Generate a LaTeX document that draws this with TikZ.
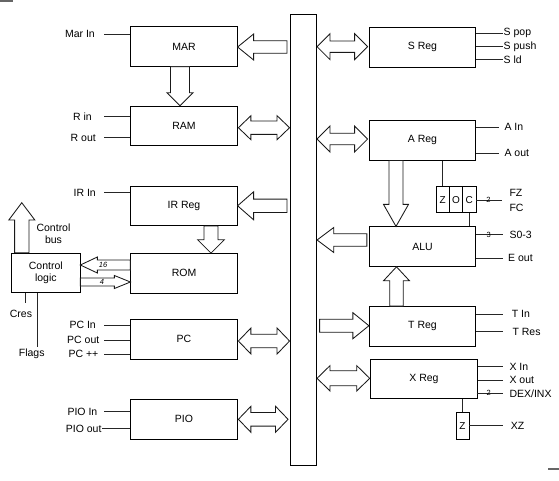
\documentclass[tikz,border=0pt]{standalone}
\usepackage{fontspec}
\setmainfont{Liberation Sans}
\usetikzlibrary{calc}
\tikzset{
  blk/.style={draw=black, line width=0.8pt, minimum width=106.4pt, minimum height=39.6pt, inner sep=0pt, font=\fontsize{10.5}{12}\selectfont},
  flagbox/.style={draw=black, line width=0.8pt, minimum width=13.3pt, minimum height=26pt, inner sep=0pt, font=\fontsize{10}{12}\selectfont},
  wire/.style={draw=black!85, line width=0.8pt},
  lbl/.style={inner sep=0pt, font=\fontsize{10.5}{12}\selectfont},
  tinylbl/.style={inner sep=0pt, font=\fontsize{7.5}{8}\selectfont},
  hollow/.style={draw=black!90, line width=0.85pt, fill=white, line join=miter}
}
% single hollow arrow: tail, tip, shaft half width, head half width, head length
\newcommand{\SArrowDraw}[5]{%
  \path coordinate (sa-t) at (#1) coordinate (sa-h) at (#2);
  \path coordinate (sa-c) at ($(sa-h)!#5!(sa-t)$);
  \draw[hollow] ($(sa-t)!#3!90:(sa-h)$) -- ($(sa-c)!#3!-90:(sa-t)$) -- ($(sa-c)!#4!-90:(sa-t)$) -- (sa-h) -- ($(sa-c)!#4!90:(sa-t)$) -- ($(sa-c)!#3!90:(sa-t)$) -- ($(sa-t)!#3!-90:(sa-h)$) -- cycle;
}
% double hollow arrow
\newcommand{\DArrowDraw}[5]{%
  \path coordinate (da-a) at (#1) coordinate (da-b) at (#2);
  \path coordinate (da-ca) at ($(da-a)!#5!(da-b)$) coordinate (da-cb) at ($(da-b)!#5!(da-a)$);
  \draw[hollow] (da-a) -- ($(da-ca)!#4!90:(da-b)$) -- ($(da-ca)!#3!90:(da-b)$) -- ($(da-cb)!#3!-90:(da-a)$) -- ($(da-cb)!#4!-90:(da-a)$) -- (da-b) -- ($(da-cb)!#4!90:(da-a)$) -- ($(da-cb)!#3!90:(da-a)$) -- ($(da-ca)!#3!-90:(da-b)$) -- ($(da-ca)!#4!-90:(da-b)$) -- cycle;
}
\begin{document}
\begin{tikzpicture}[x=1pt, y=-1pt]
\useasboundingbox (0,0) rectangle (559,480);
% corner marks
\draw[black!60, line width=2pt] (0,1.2) -- (13,1.2);
\draw[black!60, line width=2pt] (548,468.5) -- (559,468.5);

% bus
\node[draw=black, line width=0.8pt, minimum width=26.7pt, minimum height=451pt, inner sep=0pt] (bus) at (303.3,240) {};

% left blocks
\node[blk] (mar) at (184,46.5) {MAR};
\node[blk] (ram) at (184,126) {RAM};
\node[blk] (ir) at (184,205.8) {IR Reg};
\node[blk] (rom) at (184,273.3) {ROM};
\node[blk] (pc) at (184,339.3) {PC};
\node[blk] (pio) at (184,419.3) {PIO};
\node[blk, minimum width=68.3pt, align=center] (ctrl) at (45.8,273) {Control\\logic};

% right blocks
\node[blk] (sreg) at (422.5,47.3) {S Reg};
\node[blk] (areg) at (422.5,140.3) {A Reg};
\node[blk] (alu) at (422.5,246.6) {ALU};
\node[blk] (treg) at (422.5,326.3) {T Reg};
\node[blk] (xreg) at (424,378.8) {X Reg};
\node[flagbox] (fz) at (442.7,199.7) {Z};
\node[flagbox] (fo) at (456,199.7) {O};
\node[flagbox] (fc) at (469.3,199.7) {C};
\node[flagbox, minimum width=13pt, minimum height=26.3pt] (xz) at (462.5,425.8) {Z};

% hollow arrows, left side
\SArrowDraw{$(bus.west|-mar.east)+(-2.5,0.5)$}{$(mar.east)+(0,0.5)$}{6.3pt}{13pt}{16pt}
\DArrowDraw{$(ram.east)+(0.8,1.7)$}{$(bus.west|-ram.east)+(0,1.7)$}{6.7pt}{12pt}{12.5pt}
\SArrowDraw{$(bus.west|-ir.east)+(-2.5,0)$}{ir.east}{6.7pt}{14pt}{16pt}
\DArrowDraw{$(pc.east)+(0.8,1.7)$}{$(bus.west|-pc.east)+(0,1.7)$}{6.8pt}{13pt}{12.5pt}
\DArrowDraw{$(pio.east)+(0.8,0)$}{$(bus.west|-pio.east)+(-1.5,0)$}{6.8pt}{13pt}{12.5pt}
\SArrowDraw{$(mar.south)+(-4,0)$}{$(ram.north)+(-4,0)$}{9.5pt}{13pt}{13pt}
\SArrowDraw{$(ir.south)+(27,0)$}{$(rom.north)+(27,0)$}{7pt}{13.3pt}{13.3pt}
\coordinate (cbtip) at (21.8,202.7);
\SArrowDraw{$(ctrl.north)+(-24,0)$}{cbtip}{7.2pt}{13pt}{17.3pt}
\SArrowDraw{$(rom.west)+(0,-8.3)$}{$(ctrl.east|-rom.west)+(0,-8.3)$}{5pt}{8pt}{17pt}
\SArrowDraw{$(ctrl.east|-rom.west)+(0,8.7)$}{$(rom.west)+(0,8.7)$}{4pt}{6.5pt}{16pt}
\node[tinylbl, font=\fontsize{7.5}{8}\selectfont\itshape] (n16) at (103,265) {16};
\node[tinylbl, font=\fontsize{7.5}{8}\selectfont\itshape] (n4) at (102,282) {4};

% hollow arrows, right side
\DArrowDraw{$(bus.east|-sreg.west)+(0,-0.6)$}{$(sreg.west)+(-1.3,-0.6)$}{5.7pt}{13pt}{13pt}
\DArrowDraw{$(bus.east|-areg.west)+(0,-1.3)$}{$(areg.west)+(-1.3,-1.3)$}{5.7pt}{13pt}{13pt}
\SArrowDraw{$(alu.west)+(-2,-6.6)$}{$(bus.east|-alu.west)+(0,-6.6)$}{6.3pt}{12.5pt}{16.7pt}
\SArrowDraw{$(bus.east|-treg.west)+(2.6,-0.6)$}{$(treg.west)+(0,-0.6)$}{6.5pt}{13pt}{16pt}
\DArrowDraw{$(bus.east|-xreg.west)+(0,-0.5)$}{$(xreg.west)+(-0.7,-0.5)$}{7.5pt}{12.7pt}{13pt}
\SArrowDraw{$(areg.south)+(-26.5,0)$}{$(alu.north)+(-26.5,0)$}{7pt}{12.5pt}{22pt}
\SArrowDraw{$(treg.north)+(-26,0)$}{$(alu.south)+(-26,0)$}{6.7pt}{13pt}{14pt}

% left control lines
\coordinate (cmar) at (104,34);
\draw[wire] (cmar) -- (mar.west|-cmar);
\node[lbl, anchor=east] (tmar) at (95,34) {Mar In};
\coordinate (crin) at (104,116.7);
\draw[wire] (crin) -- (ram.west|-crin);
\node[lbl, anchor=east] (trin) at (92,116.7) {R in};
\coordinate (crout) at (104,137.7);
\draw[wire] (crout) -- (ram.west|-crout);
\node[lbl, anchor=east] (trout) at (96,137.7) {R out};
\coordinate (cirin) at (104,192.7);
\draw[wire] (cirin) -- (ir.west|-cirin);
\node[lbl, anchor=east] (tirin) at (96,192.7) {IR In};
\coordinate (cpcin) at (104,325);
\draw[wire] (cpcin) -- (pc.west|-cpcin);
\node[lbl, anchor=east] (tpcin) at (96,325) {PC In};
\coordinate (cpcout) at (104,340);
\draw[wire] (cpcout) -- (pc.west|-cpcout);
\node[lbl, anchor=east] (tpcout) at (99.5,340) {PC out};
\coordinate (cpcinc) at (104,354);
\draw[wire] (cpcinc) -- (pc.west|-cpcinc);
\node[lbl, anchor=east] (tpcinc) at (98.5,354) {PC ++};
\coordinate (cpioin) at (104,411.7);
\draw[wire] (cpioin) -- (pio.west|-cpioin);
\node[lbl, anchor=east] (tpioin) at (97.5,411.7) {PIO In};
\coordinate (cpioout) at (102,428.7);
\draw[wire] (cpioout) -- (pio.west|-cpioout);
\node[lbl, anchor=east] (tpioout) at (101.7,428.7) {PIO out};

% control logic lines
\coordinate (cres) at (25,303.3);
\draw[wire] (ctrl.south-|cres) -- (cres);
\node[lbl] (tcres) at (21,314) {Cres};
\coordinate (cflags) at (37.7,346.7);
\draw[wire] (ctrl.south-|cflags) -- (cflags);
\node[lbl] (tflags) at (31.7,354) {Flags};
\node[lbl, align=center] (tcbus) at (53.5,234) {Control\\bus};

% right control lines
\coordinate (cspop) at (502.7,33.3);
\draw[wire] (sreg.east|-cspop) -- (cspop);
\node[lbl, anchor=west] (tspop) at (503.5,33.3) {S pop};
\coordinate (cspush) at (502.7,46.7);
\draw[wire] (sreg.east|-cspush) -- (cspush);
\node[lbl, anchor=west] (tspush) at (503.5,46.7) {S push};
\coordinate (csld) at (502.7,59.3);
\draw[wire] (sreg.east|-csld) -- (csld);
\node[lbl, anchor=west] (tsld) at (503.5,59.3) {S ld};

\coordinate (cain) at (499.3,127.3);
\draw[wire] (areg.east|-cain) -- (cain);
\node[lbl, anchor=west] (tain) at (504.3,127.3) {A In};
\coordinate (caout) at (499.3,153.3);
\draw[wire] (areg.east|-caout) -- (caout);
\node[lbl, anchor=west] (taout) at (504.3,153.3) {A out};

\draw[wire] (areg.south-|fz.north) -- (fz.north);
\draw[wire] (fc.south) -- (alu.north-|fc.south);
\coordinate (cfl) at (501.7,200);
\draw[wire] (fc.east|-cfl) -- (cfl);
\node[tinylbl] (t2a) at (488.5,199.5) {2};
\node[lbl, anchor=west] (tfz) at (509.3,193.3) {FZ};
\node[lbl, anchor=west] (tfc) at (509.3,208.3) {FC};

\coordinate (cs03) at (502.7,234.7);
\draw[wire] (alu.east|-cs03) -- (cs03);
\node[tinylbl] (t3) at (488.7,234.5) {3};
\node[lbl, anchor=west] (ts03) at (509.3,234.7) {S0-3};
\coordinate (ceout) at (502.7,258.3);
\draw[wire] (alu.east|-ceout) -- (ceout);
\node[lbl, anchor=west] (teout) at (508,258.3) {E out};

\coordinate (ctin) at (502.7,314);
\draw[wire] (treg.east|-ctin) -- (ctin);
\node[lbl, anchor=west] (ttin) at (511.7,314) {T In};
\coordinate (ctres) at (502.7,331.7);
\draw[wire] (treg.east|-ctres) -- (ctres);
\node[lbl, anchor=west] (ttres) at (512.3,331.7) {T Res};

\coordinate (cxin) at (502.7,366.7);
\draw[wire] (xreg.east|-cxin) -- (cxin);
\node[lbl, anchor=west] (txin) at (509.3,366.7) {X In};
\coordinate (cxout) at (502.7,380);
\draw[wire] (xreg.east|-cxout) -- (cxout);
\node[lbl, anchor=west] (txout) at (509.3,380) {X out};
\coordinate (cdex) at (502.7,393.3);
\draw[wire] ($(xreg.east|-cdex)+(-1,0)$) -- (cdex);
\node[tinylbl] (t2b) at (488.7,393) {2};
\node[lbl, anchor=west] (tdex) at (509.3,393.3) {DEX/INX};

\draw[wire] (xreg.south-|xz.north) -- (xz.north);
\coordinate (cxz) at (502.7,425.7);
\draw[wire] (xz.east|-cxz) -- (cxz);
\node[lbl, anchor=west] (txz) at (510.7,425.7) {XZ};
\end{tikzpicture}
\end{document}
